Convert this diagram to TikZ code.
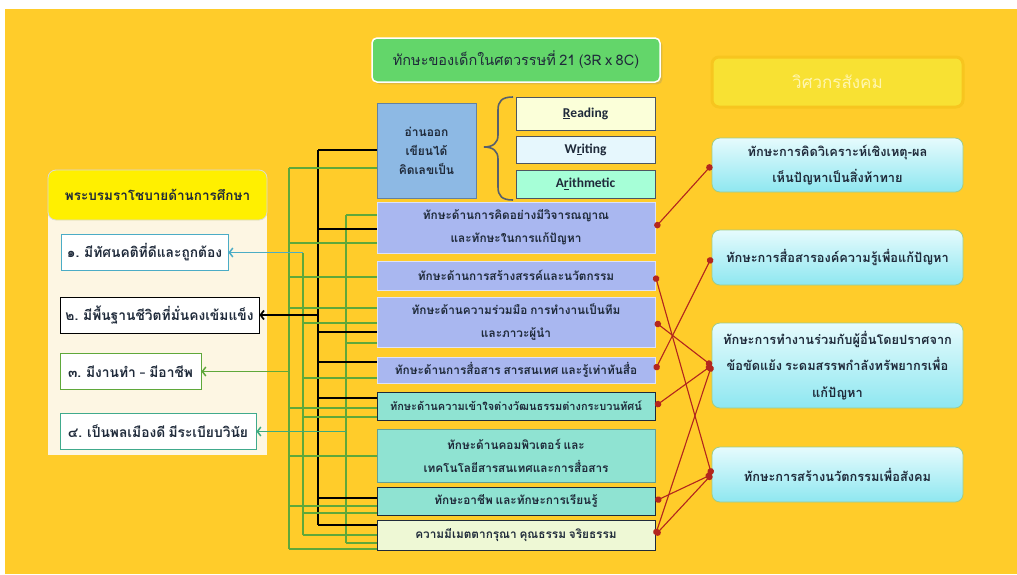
\documentclass[tikz,border=0pt]{standalone}
\usepackage{fontspec}
\setmainfont{Carlito}
\newfontfamily\thaifont[Script=Thai, WordSpace=0.7]{Loma}
\newfontfamily\latinfont{Carlito}
\usetikzlibrary{positioning, calc, arrows.meta, shadows}

\definecolor{bgyellow}{HTML}{FFCC2A}
\definecolor{titlegreen}{HTML}{63D66A}
\definecolor{socialfill}{HTML}{F8E133}
\definecolor{socialedge}{HTML}{F7C51F}
\definecolor{socialtext}{HTML}{FFF6B0}
\definecolor{rrrblue}{HTML}{8DB9E4}
\definecolor{lavender}{HTML}{A9B7F0}
\definecolor{turq}{HTML}{8FE3D2}
\definecolor{paleyellow}{HTML}{EEF8D5}
\definecolor{cream}{HTML}{FDF6E3}
\definecolor{hdryellow}{HTML}{FFF000}
\definecolor{textdark}{HTML}{1F2A3A}
\definecolor{linegreen}{HTML}{5FA83A}
\definecolor{lineblue}{HTML}{4BACC6}
\definecolor{lineteal}{HTML}{3DAA7D}
\definecolor{linkred}{HTML}{B3261E}
\definecolor{cyantop}{HTML}{E6FBFD}
\definecolor{cyanbot}{HTML}{8EE7F0}

% short branch from a skill box to one of the buses
\newcommand{\tap}[4][gline]{\draw[#1] ($(#2.west)+(0,#3)$) -- ($(#4 |- #2.west)+(0,#3)$);}

\begin{document}
\begin{tikzpicture}[
    x=1pt, y=-1pt,
    title/.style={rectangle, rounded corners=5pt, fill=titlegreen, draw=white, line width=1.5pt, drop shadow={opacity=0.25}, minimum width=288pt, minimum height=44pt, text=textdark, font=\thaifont\fontsize{14.5}{17}\selectfont},
    social/.style={rectangle, rounded corners=7pt, fill=socialfill, draw=socialedge, line width=3pt, minimum width=251pt, minimum height=50pt, text=socialtext, font=\thaifont\fontsize{17}{19}\selectfont},
    rbox/.style={rectangle, fill=rrrblue, draw=rrrblue!70!black, thin, minimum width=99pt, minimum height=95pt, align=center, text=textdark, font=\thaifont\bfseries\fontsize{12}{19}\selectfont},
    rword/.style={rectangle, draw=textdark!80, thick, minimum width=139pt, text=textdark, font=\latinfont\bfseries\fontsize{13.5}{15}\selectfont},
    skill/.style={rectangle, draw=white!60!lavender, thin, minimum width=278pt, inner xsep=2pt, align=center, text=textdark, font=\thaifont\bfseries\fontsize{11.8}{23}\selectfont},
    policy/.style={rectangle, fill=white, thick, inner xsep=5pt, minimum height=36pt, text=textdark, font=\thaifont\bfseries\fontsize{13.8}{16}\selectfont},
    outcome/.style={rectangle, rounded corners=8pt, draw=linegreen!60!white, thick, top color=cyantop, bottom color=cyanbot, minimum width=251pt, align=center, text=textdark, font=\thaifont\bfseries\fontsize{12.8}{26.5}\selectfont},
    gline/.style={draw=linegreen, line width=1.5pt},
    kline/.style={draw=black, line width=1.7pt},
    arrow/.style={-{Straight Barb[length=3.5pt,width=9pt]}, line width=1.5pt},
    link/.style={{Circle[length=6.5pt]}-{Circle[length=6.5pt]}, draw=linkred, fill=linkred, line width=1.1pt}
]

\useasboundingbox (0,0) rectangle (1017,574);
\fill[white] (0,0) rectangle (1017,574);
\fill[bgyellow] (5,9) rectangle (1017,574);

% headings
\node[title] (title) at (516,60) {ทักษะของเด็กในศตวรรษที่ 21 (3R x 8C)};
\node[social] (social) at (837.5,82) {วิศวกรสังคม};

% 3R
\node[rbox] (rrr) at (426.5,150.5) {อ่านออก\\เขียนได้\\คิดเลขเป็น};
\node[rword, fill=green!10!yellow!15, minimum height=33pt] (reading) at (585.5,113.5) {\underline{R}eading};
\node[rword, fill=cyan!10, minimum height=27pt] (writing) at (585.5,149.5) {W\underline{r}iting};
\node[rword, fill=green!45!cyan!35, minimum height=28pt] (arith) at (585.5,184) {A\underline{r}ithmetic};
\draw[draw=textdark!75, line width=1.6pt] (513,97) .. controls (502,97) and (498,101) .. (498,110) -- (498,135)
    .. controls (498,143) and (493,147) .. (484,147) .. controls (493,147) and (498,151) .. (498,159)
    -- (498,187) .. controls (498,196) and (502,200) .. (513,200);

% 8C
\node[skill, fill=lavender, minimum height=51pt] (c1) at (516,227.5) {ทักษะด้านการคิดอย่างมีวิจารณญาณ\\และทักษะในการแก้ปัญหา};
\node[skill, fill=lavender, minimum height=29pt] (c2) at (516,275.5) {ทักษะด้านการสร้างสรรค์และนวัตกรรม};
\node[skill, fill=lavender, minimum height=50pt] (c3) at (516,322) {ทักษะด้านความร่วมมือ การทำงานเป็นทีม\\และภาวะผู้นำ};
\node[skill, fill=lavender, minimum height=26pt] (c4) at (516,370) {ทักษะด้านการสื่อสาร สารสนเทศ และรู้เท่าทันสื่อ};
\node[skill, fill=turq, draw=textdark, thick, minimum height=28pt, font=\thaifont\bfseries\fontsize{11}{13}\selectfont] (c5) at (516,406) {ทักษะด้านความเข้าใจต่างวัฒนธรรมต่างกระบวนทัศน์};
\node[skill, fill=turq, draw=turq!70!black, minimum height=53pt] (c6) at (516,455.5) {ทักษะด้านคอมพิวเตอร์ และ\\เทคโนโลยีสารสนเทศและการสื่อสาร};
\node[skill, fill=turq, draw=textdark, thick, minimum height=28pt] (c7) at (516,501) {ทักษะอาชีพ และทักษะการเรียนรู้};
\node[skill, fill=paleyellow, draw=textdark, thick, minimum height=30pt] (c8) at (516,535) {ความมีเมตตากรุณา คุณธรรม จริยธรรม};

% policy panel
\fill[cream] (48,195) rectangle (267,455);
\node[rectangle, rounded corners=8pt, fill=hdryellow, draw=white!70!gray, thick, minimum width=219pt, minimum height=50pt, text=textdark, font=\thaifont\bfseries\fontsize{13.5}{16}\selectfont] (policyhdr) at (157.5,195) {พระบรมราโชบายด้านการศึกษา};
\node[policy, draw=lineblue, minimum width=167pt] (p1) at (144.5,252.5) {๑. มีทัศนคติที่ดีและถูกต้อง};
\node[policy, draw=black, minimum width=199pt] (p2) at (159.5,315) {๒. มีพื้นฐานชีวิตที่มั่นคงเข้มแข็ง};
\node[policy, draw=linegreen, minimum width=141pt] (p3) at (130.5,371.5) {๓. มีงานทำ {\latinfont\bfseries –} มีอาชีพ};
\node[policy, draw=lineteal!80!lineblue, minimum width=196pt] (p4) at (158,431.5) {๔. เป็นพลเมืองดี มีระเบียบวินัย};

% right column
\node[outcome, minimum height=54pt] (r1) at (837.5,165) {ทักษะการคิดวิเคราะห์เชิงเหตุ-ผล\\เห็นปัญหาเป็นสิ่งท้าทาย};
\node[outcome, minimum height=55pt] (r2) at (837.5,257.5) {ทักษะการสื่อสารองค์ความรู้เพื่อแก้ปัญหา};
\node[outcome, minimum height=85pt] (r3) at (837.5,365.5) {ทักษะการทำงานร่วมกับผู้อื่นโดยปราศจาก\\ข้อขัดแย้ง ระดมสรรพกำลังทรัพยากรเพื่อ\\แก้ปัญหา};
\node[outcome, minimum height=55pt] (r4) at (837.5,474.5) {ทักษะการสร้างนวัตกรรมเพื่อสังคม};

% buses
\coordinate (aTop) at (289,168);
\coordinate (aBot) at (289,549);
\coordinate (bBot) at (303,535);
\coordinate (cTop) at (318,150);
\coordinate (cBot) at (318,525);
\coordinate (dTop) at (346,215);
\coordinate (dBot) at (346,543);

\draw[gline] (aTop) -- (aBot);
\draw[gline] (bBot) -- (bBot |- p1.east);
\draw[kline] (cTop) -- (cBot);
\draw[gline] (dTop) -- (dBot);

\draw[arrow, draw=lineblue] (bBot |- p1.east) -- (p1.east);
\draw[arrow, draw=black, line width=1.7pt] (cTop |- p2.east) -- (p2.east);
\draw[arrow, draw=linegreen] (aTop |- p3.east) -- (p3.east);
\draw[arrow, draw=lineteal] (dTop |- p4.east) -- (p4.east);

\tap[kline]{rrr}{-0.5}{cTop}
\tap{rrr}{17.5}{aTop}
\tap{c1}{-12.5}{dTop}
\tap[kline]{c1}{1.5}{cTop}
\tap{c1}{15.5}{aTop}
\tap{c2}{1.5}{aTop}
\tap{c3}{-14}{aTop}
\tap{c3}{1}{bBot}
\tap[kline]{c3}{10}{cTop}
\tap{c3}{21}{dTop}
\tap[kline]{c4}{-8}{cTop}
\tap{c4}{8}{bBot}
\tap[kline]{c5}{-8}{cTop}
\tap{c5}{2}{aTop}
\tap{c5}{11}{bBot}
\tap{c6}{0.5}{aTop}
\tap[kline]{c7}{-3}{cTop}
\tap{c7}{5}{aTop}
\tap{c7}{12}{bBot}
\tap[kline]{c8}{-10}{cTop}
\tap{c8}{0}{bBot}
\tap{c8}{8}{dTop}
\tap{c8}{14}{aTop}

% links to the right column
\draw[link] (c1.east) -- (r1.west);
\draw[link] (c2.east) -- (r4.west);
\draw[link] (c3.east) -- (r3.west);
\draw[link] (c4.east) -- (r2.west);
\draw[link] (c5.east) -- (r3.west);
\draw[link] (c7.east) -- (r4.west);
\draw[link] (c8.east) -- (r3.west);
\draw[link] (c8.east) -- (r4.west);

\end{tikzpicture}
\end{document}
